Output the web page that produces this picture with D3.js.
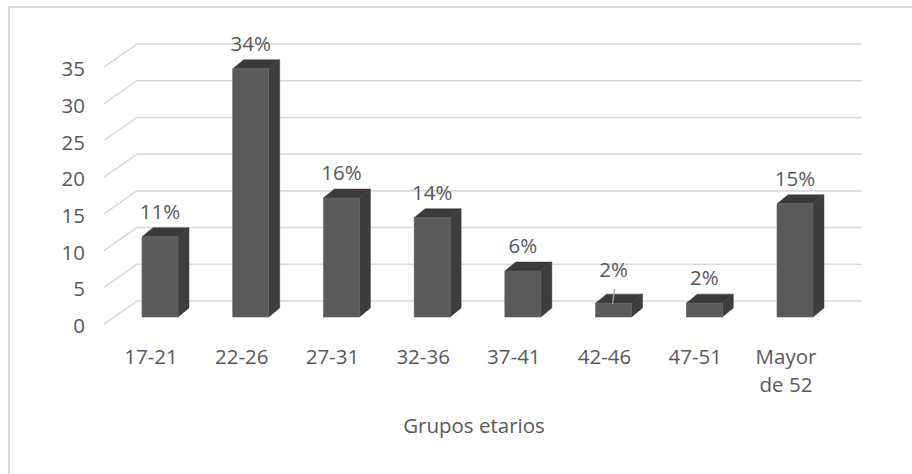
<!DOCTYPE html>
<html>
<head>
<meta charset="utf-8">
<script src="https://cdn.jsdelivr.net/npm/d3@7"></script>
<style>
html,body{margin:0;padding:0;background:#fff;}
svg{display:block;}
text{font-family:"Open Sans",sans-serif;fill:#595959;}
</style>
</head>
<body>
<svg id="chart" width="912" height="474"></svg>
<script>
const categories = ["17-21","22-26","27-31","32-36","37-41","42-46","47-51","Mayor de 52"];
const values = [11, 34, 16.3, 13.6, 6.3, 1.9, 1.9, 15.5];
const valueLabels = ["11%","34%","16%","14%","6%","2%","2%","15%"];
const yTicks = [0,5,10,15,20,25,30,35];
const axisTitle = "Grupos etarios";

const svg = d3.select("#chart");
const fs = 20.5;

// outer border (only top/left visible in frame)
svg.append("rect").attr("x",9).attr("y",7).attr("width",940).attr("height",500)
  .attr("fill","none").attr("stroke","#d9d9d9").attr("stroke-width",2);

const x = d3.scalePoint().domain(categories).range([160, 795]);
const yBack = d3.scaleLinear().domain([0,35]).range([301, 44]);
const yBar = d3.scaleLinear().domain([0,35]).range([317, 61.5]);
const yLab = d3.scaleLinear().domain([0,35]).range([326, 69]);
const depthX = 33, depthY = 23;
const barW = 36, sideDX = 11, sideDY = 9;

// gridlines: back wall + side wall diagonal
const grid = svg.append("g").attr("stroke","#d9d9d9").attr("stroke-width",1.6).attr("fill","none");
yTicks.forEach(t => {
  grid.append("path").attr("d", `M${137-depthX},${yBack(t)+depthY}L137,${yBack(t)}L862,${yBack(t)}`);
});

// y labels
svg.append("g").selectAll("text").data(yTicks).join("text")
  .attr("x", 85).attr("y", d => yLab(d)).attr("dy","0.35em")
  .attr("text-anchor","end").attr("font-size",fs).text(d => d);

// bars
const bars = svg.append("g").selectAll("g").data(categories).join("g");
bars.each(function(c, i) {
  const g = d3.select(this);
  const x0 = x(c) - barW/2, x1 = x(c) + barW/2;
  const y0 = yBar(0), y1 = yBar(values[i]);
  g.append("path").attr("d", `M${x1},${y1}L${x1+sideDX},${y1-sideDY}L${x1+sideDX},${y0-sideDY}L${x1},${y0}Z`)
    .attr("fill","#3d3d3d").attr("stroke","#3d3d3d").attr("stroke-width",0.5);
  g.append("path").attr("d", `M${x0},${y1}L${x0+sideDX},${y1-sideDY}L${x1+sideDX},${y1-sideDY}L${x1},${y1}Z`)
    .attr("fill","#3a3a3a").attr("stroke","#3a3a3a").attr("stroke-width",0.5);
  g.append("rect").attr("x", x0).attr("y", y1).attr("width", barW).attr("height", y0 - y1)
    .attr("fill","#5a5a5a").attr("stroke","#666").attr("stroke-width",0.6);
});

// value labels
const labelShift = [0,0,0,0,0,-8,0,0];
svg.append("g").selectAll("text").data(categories).join("text")
  .attr("x", d => x(d)).attr("y", (d,i) => yBar(values[i]) - sideDY - 9 + labelShift[i])
  .attr("text-anchor","middle").attr("font-size",fs).text((d,i) => valueLabels[i]);
categories.forEach((c,i) => {
  if (labelShift[i] !== 0) {
    svg.append("line").attr("x1", x(c)+1).attr("y1", yBar(values[i]) - sideDY - 5)
      .attr("x2", x(c)-1).attr("y2", yBar(values[i]) + 1)
      .attr("stroke","#a6a6a6").attr("stroke-width",1.3);
  }
});

// category labels
const cat = svg.append("g").selectAll("text").data(categories).join("text")
  .attr("x", d => x(d) - 9).attr("y", 364).attr("text-anchor","middle").attr("font-size",fs);
cat.each(function(d) {
  const parts = d === "Mayor de 52" ? ["Mayor","de 52"] : [d];
  const t = d3.select(this);
  parts.forEach((p, k) => t.append("tspan").attr("x", x(d) - 9).attr("dy", k === 0 ? 0 : 28).text(p));
});

// axis title
svg.append("text").attr("x", 474).attr("y", 433).attr("text-anchor","middle")
  .attr("font-size", fs).text(axisTitle);
</script>
</body>
</html>
